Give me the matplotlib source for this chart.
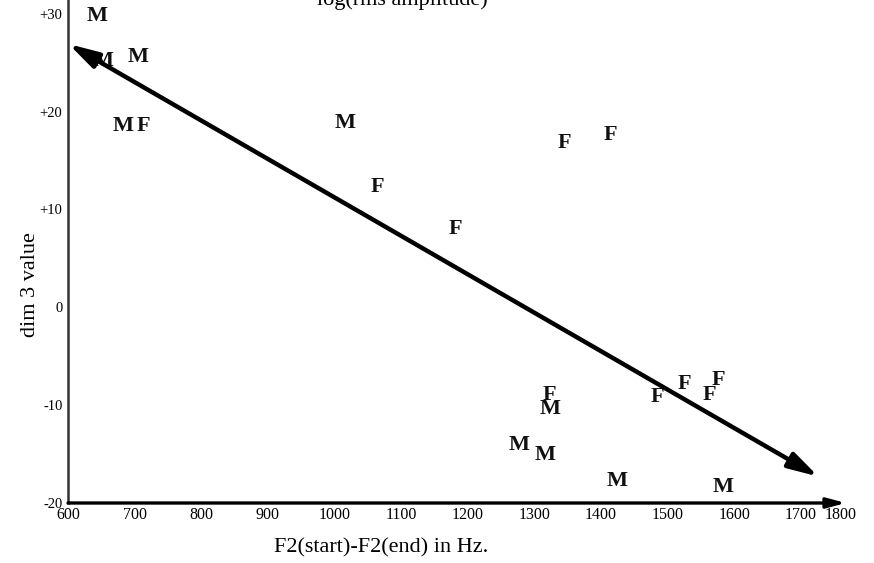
import matplotlib
matplotlib.use("Agg")
import matplotlib.pyplot as plt

plt.rcParams['font.family'] = ['Liberation Serif', 'DejaVu Serif']

# data: (F2 difference in Hz, dim 3 value)
m_x = [643, 652, 705, 683, 1016, 1324, 1277, 1316, 1424, 1583]
m_y = [29.8, 25.2, 25.6, 18.5, 18.8, -10.4, -14.1, -15.1, -17.8, -18.4]
f_x = [713, 1064, 1181, 1345, 1414, 1322, 1484, 1525, 1576, 1562]
f_y = [18.5, 12.3, 8.0, 16.8, 17.6, -9.0, -9.2, -7.8, -7.4, -9.0]

arrow_start = (1726, -17.3)
arrow_end = (601, 26.9)

x_ticks = [600, 700, 800, 900, 1000, 1100, 1200, 1300, 1400, 1500, 1600, 1700, 1760]
x_ticklabels = ['600', '700', '800', '900', '1000', '1100', '1200', '1300', '1400',
                '1500', '1600', '1700', '1800']
y_ticks = [-20, -10, 0, 10, 20, 30]
y_ticklabels = ['-20', '-10', '0', '+10', '+20', '+30']

W, H = 874, 563
fig = plt.figure(figsize=(W / 100, H / 100), dpi=100)
ax = fig.add_axes([68 / W, (H - 503) / H, (841 - 68) / W, 503 / H])
ax.set_xlim(600, 1760)
ax.set_ylim(-20, 31.4)

for x, y in zip(m_x, m_y):
    ax.text(x, y, 'M', ha='center', va='center', fontsize=16, fontweight='bold', color='#111111')
for x, y in zip(f_x, f_y):
    ax.text(x, y, 'F', ha='center', va='center', fontsize=16, fontweight='bold', color='#111111')

ax.annotate('', xy=arrow_start, xytext=arrow_end,
            arrowprops=dict(arrowstyle='<|-|>,head_length=1.8,head_width=0.5',
                            lw=3.2, color='black', shrinkA=0, shrinkB=0))

for s in ['top', 'right']:
    ax.spines[s].set_visible(False)
ax.spines['left'].set_linewidth(1.8)
ax.spines['left'].set_color('#333333')
ax.spines['bottom'].set_visible(False)
ax.annotate('', xy=(1.006, 0), xytext=(0, 0), xycoords='axes fraction',
            arrowprops=dict(arrowstyle='-|>,head_length=1.1,head_width=0.3',
                            lw=2.4, color='black', shrinkA=0, shrinkB=0),
            annotation_clip=False)

ax.set_xticks(x_ticks)
ax.set_xticklabels(x_ticklabels, fontsize=11.5)
ax.set_yticks(y_ticks)
ax.set_yticklabels(y_ticklabels, fontsize=10.5)
ax.tick_params(axis='both', length=0)
ax.tick_params(axis='x', pad=3)
ax.tick_params(axis='y', pad=4)

fig.text(381 / W, 1 - 548 / H, 'F2(start)-F2(end) in Hz.', ha='center', va='center', fontsize=16)
fig.text(31 / W, 1 - 285 / H, 'dim 3 value', ha='center', va='center', fontsize=16, rotation=90)
fig.text(402 / W, 1 - 5 / H, 'log(rms amplitude)', ha='center', va='baseline', fontsize=16)

fig.savefig('out.png', dpi=100, facecolor='white')
